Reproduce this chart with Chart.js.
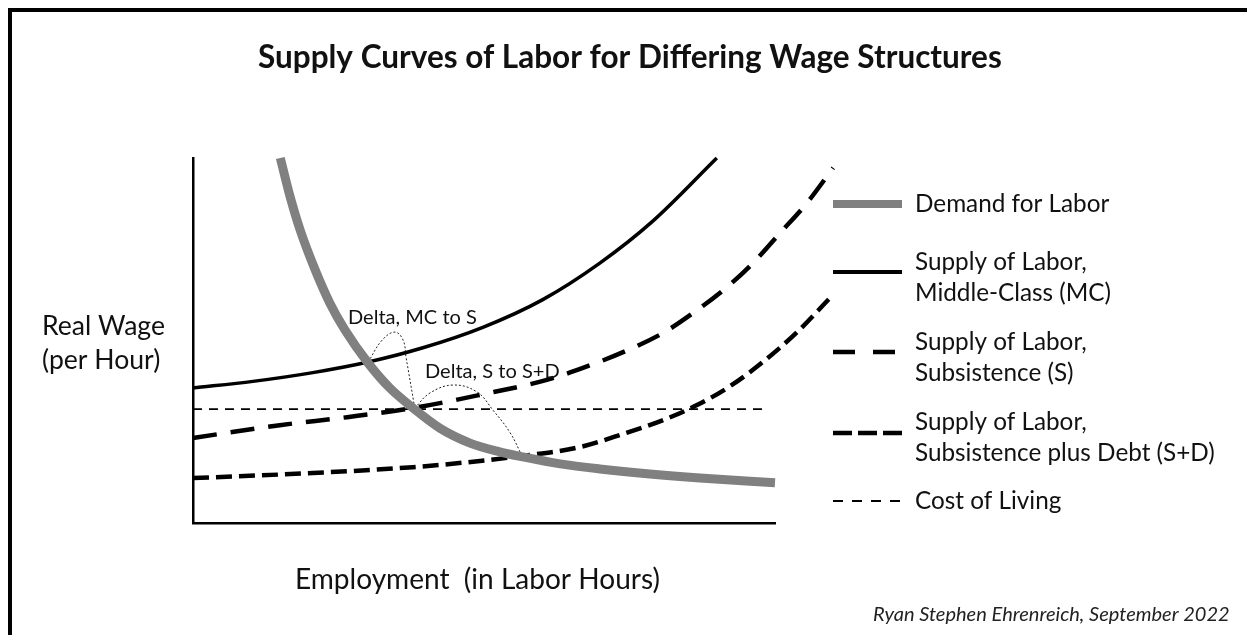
<!DOCTYPE html>
<html>
<head>
<meta charset="utf-8">
<script src="https://cdn.jsdelivr.net/npm/chart.js@4.4.0/dist/chart.umd.min.js"></script>
<style>
  html, body { margin: 0; padding: 0; background: #fff; }
  canvas { display: block; }
</style>
</head>
<body>
<canvas id="chart" width="1247" height="635"></canvas>
<script>
// Curve data (x = employment, y = real wage, both 0..100 axis units)
const demandX = [15.0, 16.7, 18.4, 21.0, 23.5, 26.1, 30.1, 33.8, 37.8, 42.4, 47.6, 52.7, 56.7, 63.1, 69.9, 78.5, 87.1, 100];
const demandY = [100, 89.3, 80.3, 69.3, 60.3, 52.9, 43.8, 37.0, 31.5, 26.0, 21.9, 19.5, 18.1, 16.2, 14.8, 13.4, 12.3, 11.0];

const middleClassX = [0, 10.3, 20.6, 30.1, 39.5, 49.8, 60.1, 69.9, 79.0, 90.0];
const middleClassY = [37.0, 38.8, 41.2, 44.1, 48.0, 53.6, 61.2, 71.2, 82.7, 100];

const subsistenceX = [0, 14.9, 26.5, 37.8, 49.3, 60.8, 67.0, 73.9, 80.8, 85.9, 91.8, 96.2, 100.9, 105.5, 110.0];
const subsistenceY = [23.3, 26.8, 29.0, 31.5, 35.1, 39.2, 42.5, 46.8, 52.1, 57.5, 64.7, 71.2, 79.5, 87.7, 97.3];

const debtX = [0, 20.6, 37.8, 49.3, 56.7, 66.5, 73.9, 80.8, 86.6, 92.3, 97.9, 103.8, 109.4];
const debtY = [12.3, 13.7, 15.3, 17.0, 18.4, 20.8, 24.4, 28.2, 32.3, 37.5, 44.1, 52.3, 61.6];

const costOfLivingX = [0, 98.3];
const costOfLivingY = [31.2, 31.2];

// dotted "delta" arcs between the intersections
const deltaMcX = [30.1, 32.5, 34.7, 36.1, 36.6, 38.1];
const deltaMcY = [44.1, 50.1, 52.3, 50.1, 45.5, 31.5];
const deltaSdX = [38.1, 40.7, 44.7, 48.8, 51.5, 54.5, 56.7];
const deltaSdY = [31.5, 35.6, 37.8, 35.9, 31.0, 24.7, 17.8];

// Texts
const chartTitle = 'Supply Curves of Labor for Differing Wage Structures';
const yAxisLabel = ['Real Wage', '(per Hour)'];
const xAxisLabel = 'Employment  (in Labor Hours)';
const credit = 'Ryan Stephen Ehrenreich, September 2022';
const deltaLabels = ['Delta, MC to S', 'Delta, S to S+D'];
const legendLabels = [
  ['Demand for Labor'],
  ['Supply of Labor,', 'Middle-Class (MC)'],
  ['Supply of Labor,', 'Subsistence (S)'],
  ['Supply of Labor,', 'Subsistence plus Debt (S+D)'],
  ['Cost of Living']
];

const FONT = 'Lato, "Noto Sans", sans-serif';

const toPoints = (xs, ys) => xs.map((x, i) => ({ x, y: ys[i] }));

// font size so that text takes a given width
function fitSize(ctx, text, width, style) {
  ctx.font = `${style} 20px ${FONT}`;
  return 20 * width / ctx.measureText(text).width;
}

function drawText(ctx, text, x, y, size, style, color) {
  ctx.font = `${style} ${size}px ${FONT}`;
  ctx.fillStyle = color;
  ctx.textAlign = 'left';
  ctx.textBaseline = 'middle';
  ctx.fillText(text, x, y);
}

const decorations = {
  id: 'decorations',
  beforeDraw(chart) {
    const ctx = chart.ctx;
    ctx.save();
    ctx.fillStyle = '#fff';
    ctx.fillRect(0, 0, chart.width, chart.height);
    // outer frame (only top and left edges are inside the picture)
    ctx.fillStyle = '#000';
    ctx.fillRect(8, 8, chart.width - 8, 4);
    ctx.fillRect(8, 8, 4, chart.height - 8);
    ctx.restore();
  },
  afterDraw(chart) {
    const ctx = chart.ctx;
    ctx.save();
    const ink = '#111';

    // title
    const titleSize = fitSize(ctx, chartTitle, 744, 'bold');
    drawText(ctx, chartTitle, 258, 58, titleSize, 'bold', ink);

    // axis labels
    const ySize = fitSize(ctx, yAxisLabel[0], 123, 'normal');
    drawText(ctx, yAxisLabel[0], 42, 326, ySize, 'normal', ink);
    drawText(ctx, yAxisLabel[1], 42, 360, ySize, 'normal', ink);
    const xSize = fitSize(ctx, xAxisLabel, 365, 'normal');
    drawText(ctx, xAxisLabel, 295, 580, xSize, 'normal', ink);

    // delta labels
    const dSize = fitSize(ctx, deltaLabels[0], 129, 'normal');
    drawText(ctx, deltaLabels[0], 348, 318, dSize, 'normal', ink);
    drawText(ctx, deltaLabels[1], 425, 372, dSize, 'normal', ink);

    // credit
    const cSize = fitSize(ctx, credit, 357, 'italic');
    drawText(ctx, credit, 873, 615, cSize, 'italic', '#222');

    // legend
    const rows = [204, 272, 352, 433, 501];
    const textRows = [[204], [262, 293], [342, 373], [422, 453], [501]];
    const lSize = fitSize(ctx, legendLabels[3][1], 300, 'normal');
    legendLabels.forEach((lines, i) => {
      const ds = chart.data.datasets[i];
      ctx.save();
      ctx.strokeStyle = ds.borderColor;
      ctx.lineWidth = ds.legendWidth;
      ctx.setLineDash(ds.legendDash);
      ctx.lineCap = 'butt';
      ctx.beginPath();
      ctx.moveTo(833, rows[i]);
      ctx.lineTo(902, rows[i]);
      ctx.stroke();
      ctx.restore();
      lines.forEach((line, j) => drawText(ctx, line, 915, textRows[i][j], lSize, 'normal', ink));
    });
    ctx.restore();
  }
};

const lineSet = (label, xs, ys, color, width, dash, legendWidth, legendDash) => ({
  label,
  data: toPoints(xs, ys),
  borderColor: color,
  borderWidth: width,
  borderDash: dash,
  legendWidth,
  legendDash,
  cubicInterpolationMode: 'monotone',
  pointRadius: 0,
  fill: false,
  clip: false
});

const arcSet = (xs, ys) => ({
  label: '',
  data: toPoints(xs, ys),
  borderColor: '#222',
  borderWidth: 1,
  borderDash: [2, 2],
  tension: 0.4,
  pointRadius: 0,
  fill: false,
  clip: false
});

new Chart(document.getElementById('chart'), {
  type: 'line',
  data: {
    datasets: [
      lineSet('Demand for Labor', demandX, demandY, '#808080', 9, [], 8, []),
      lineSet('Supply of Labor, Middle-Class (MC)', middleClassX, middleClassY, '#000', 3.5, [], 4, []),
      lineSet('Supply of Labor, Subsistence (S)', subsistenceX, subsistenceY, '#000', 4.5, [24, 14], 4.5, [22, 18]),
      lineSet('Supply of Labor, Subsistence plus Debt (S+D)', debtX, debtY, '#000', 4.5, [16, 7], 4.5, [19, 6]),
      lineSet('Cost of Living', costOfLivingX, costOfLivingY, '#000', 1.8, [9, 7], 1.8, [10, 9]),
      arcSet(deltaMcX, deltaMcY),
      arcSet(deltaSdX, deltaSdY)
    ]
  },
  options: {
    responsive: false,
    animation: false,
    devicePixelRatio: 1,
    layout: { padding: { left: 193, right: 472, top: 158, bottom: 112 } },
    scales: {
      x: {
        type: 'linear',
        // bounds set after data limits so curves running past the axis end are still drawn
        afterDataLimits: (scale) => { scale.min = 0; scale.max = 100; },
        grid: { display: false, drawTicks: false },
        ticks: { display: false },
        border: { display: true, color: '#000', width: 2.5 }
      },
      y: {
        type: 'linear',
        min: 0,
        max: 100,
        grid: { display: false, drawTicks: false },
        ticks: { display: false },
        border: { display: true, color: '#000', width: 2.5 }
      }
    },
    plugins: {
      legend: { display: false },
      tooltip: { enabled: false },
      title: { display: false }
    }
  },
  plugins: [decorations]
});
</script>
</body>
</html>
